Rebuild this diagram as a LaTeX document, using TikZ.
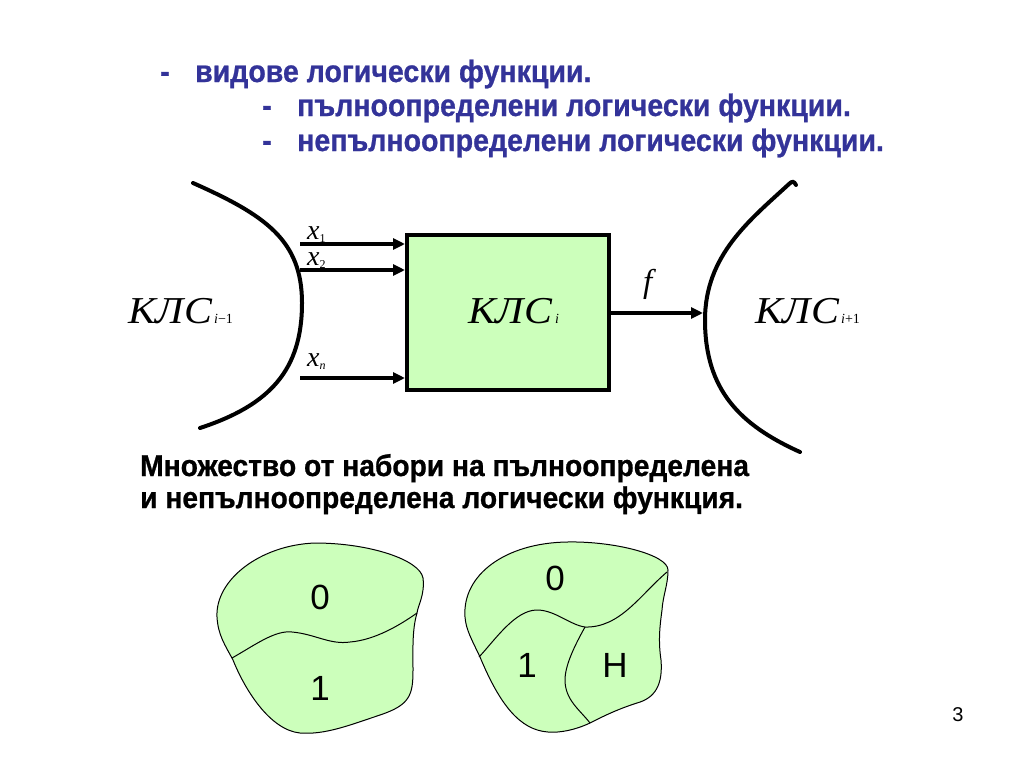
\documentclass[tikz,border=0pt]{standalone}
\usepackage{fontspec}
\setmainfont{Liberation Serif}
\newfontfamily\hd[FakeStretch=0.92,FakeBold=0.8]{Liberation Sans}
\newfontfamily\hdc[FakeStretch=0.94,FakeBold=0.8]{Liberation Sans}
\newfontfamily\ar{Liberation Sans}
\newfontfamily\kls[FakeStretch=1.1]{Liberation Serif}
\usetikzlibrary{arrows.meta}
\definecolor{blueT}{HTML}{333399}
\definecolor{fillG}{HTML}{CCFFBB}
\begin{document}
\begin{tikzpicture}[x=1pt,y=-1pt,
  heading/.style={anchor=base west, inner sep=0, font=\hd\bfseries\fontsize{31}{31}\selectfont, text=blueT},
  caption/.style={anchor=base west, inner sep=0, font=\hdc\bfseries\fontsize{30}{30}\selectfont, text=black},
  curve/.style={line width=4, line cap=round},
  arr/.style={line width=3.5, -{Triangle[length=12,width=11]}},
  blob/.style={draw, line width=1, fill=fillG},
  divider/.style={line width=1},
  klslabel/.style={anchor=base west, inner sep=0, font=\kls\itshape\fontsize{38}{38}\selectfont},
  xlabel/.style={anchor=base west, inner sep=0, font=\itshape\fontsize{28}{28}\selectfont},
  digit/.style={font=\ar\fontsize{35}{35}\selectfont, inner sep=0}]
\useasboundingbox (0,0) rectangle (1024,768);
\fill[white] (0,0) rectangle (1024,768);

% heading
\node[heading] (d1) at (160,82) {-};
\node[heading] (h1) at (195,82) {видове логически функции.};
\node[heading] (d2) at (262,116) {-};
\node[heading] (h2) at (297,116) {пълноопределени логически функции.};
\node[heading] (d3) at (262,151) {-};
\node[heading] (h3) at (297,151) {непълноопределени логически функции.};

% left and right curves
\draw[curve] (193,183) .. controls (265,215) and (302,240) .. (302,303)
  .. controls (302,370) and (270,405) .. (200,428);
\draw[curve] (796,185) .. controls (794,181) and (792,181) .. (789,184)
  .. controls (750,220) and (705,255) .. (705,320)
  .. controls (705,390) and (740,425) .. (800,452);

% box
\node[draw, line width=4, fill=fillG, minimum width=202, minimum height=155, inner sep=0] (box) at (508,312.5) {};
\node[klslabel] (kc) at (468,323) {КЛС\hspace{3pt}{\fontsize{14}{14}\selectfont\normalfont\itshape i}};

% input arrows
\coordinate (s1) at (300,244);
\coordinate (s2) at (300,270);
\coordinate (sn) at (300,378);
\draw[arr] (s1) -- (s1 -| box.west);
\draw[arr] (s2) -- (s2 -| box.west);
\draw[arr] (sn) -- (sn -| box.west);
\node[xlabel] (lx1) at (307,239) {x\raisebox{-3pt}{\normalfont\fontsize{12}{12}\selectfont 1}};
\node[xlabel] (lx2) at (307,265) {x\raisebox{-3pt}{\normalfont\fontsize{12}{12}\selectfont 2}};
\node[xlabel] (lxn) at (307,366) {x\raisebox{-3pt}{\normalfont\itshape\fontsize{12}{12}\selectfont n}};

% output arrow
\coordinate (t) at (703,313);
\draw[arr] (box.east |- t) -- (t);
\node[anchor=base west, inner sep=0, font=\itshape\fontsize{33}{33}\selectfont] (lf) at (643,292) {f};

% KLS labels
\node[klslabel] (kl) at (128,323) {КЛС\hspace{2pt}{\normalfont\fontsize{14}{14}\selectfont\itshape i\upshape −1}};
\node[klslabel] (kr) at (755,323) {КЛС\hspace{2pt}{\normalfont\fontsize{14}{14}\selectfont\itshape i\upshape +1}};

% caption
\node[caption] (c1) at (140,476) {Множество от набори на пълноопределена};
\node[caption] (c2) at (140,508) {и непълноопределена логически функция.};

% left blob
\draw[blob] (217,617) .. controls (215,580) and (260,545) .. (315,543)
  .. controls (370,543) and (420,560) .. (423,578)
  .. controls (425,595) and (418,605) .. (417,613)
  .. controls (412,630) and (413,650) .. (413,670)
  .. controls (413,695) and (410,705) .. (380,715)
  .. controls (350,725) and (325,735) .. (300,733)
  .. controls (270,730) and (245,690) .. (233,660)
  .. controls (225,645) and (218,635) .. (217,617) -- cycle;
\coordinate (la) at (232,658);
\coordinate (lb) at (417,613);
\draw[divider] (la) .. controls (255,645) and (275,630) .. (292,632)
  .. controls (315,634) and (330,645) .. (350,642)
  .. controls (375,640) and (400,625) .. (lb);
\node[digit] (z0) at (320,597) {0};
\node[digit] (z1) at (320,688) {1};

% right blob
\draw[blob] (465,617) .. controls (462,575) and (505,543) .. (567,542)
  .. controls (615,541) and (668,555) .. (668,570)
  .. controls (668,585) and (663,595) .. (662,610)
  .. controls (660,625) and (658,640) .. (661,660)
  .. controls (663,685) and (655,698) .. (637,703)
  .. controls (615,710) and (600,718) .. (590,723)
  .. controls (575,730) and (560,733) .. (548,732)
  .. controls (520,730) and (500,705) .. (480,657)
  .. controls (472,640) and (466,630) .. (465,617) -- cycle;
\coordinate (ra) at (479,657);
\coordinate (rj) at (585,627);
\coordinate (rb) at (667,572);
\coordinate (rc) at (590,723);
\draw[divider] (ra) .. controls (495,640) and (515,610) .. (537,610)
  .. controls (555,610) and (570,625) .. (rj)
  .. controls (620,628) and (640,595) .. (rb);
\draw[divider] (rj) .. controls (575,645) and (565,665) .. (565,680)
  .. controls (565,700) and (580,710) .. (rc);
\node[digit] (r0) at (555,578) {0};
\node[digit] (r1) at (527,665) {1};
\node[digit] (rh) at (615,665) {Н};

% page number
\node[font=\ar\fontsize{20}{20}\selectfont, inner sep=0] (pn) at (958,715) {3};
\end{tikzpicture}
\end{document}
